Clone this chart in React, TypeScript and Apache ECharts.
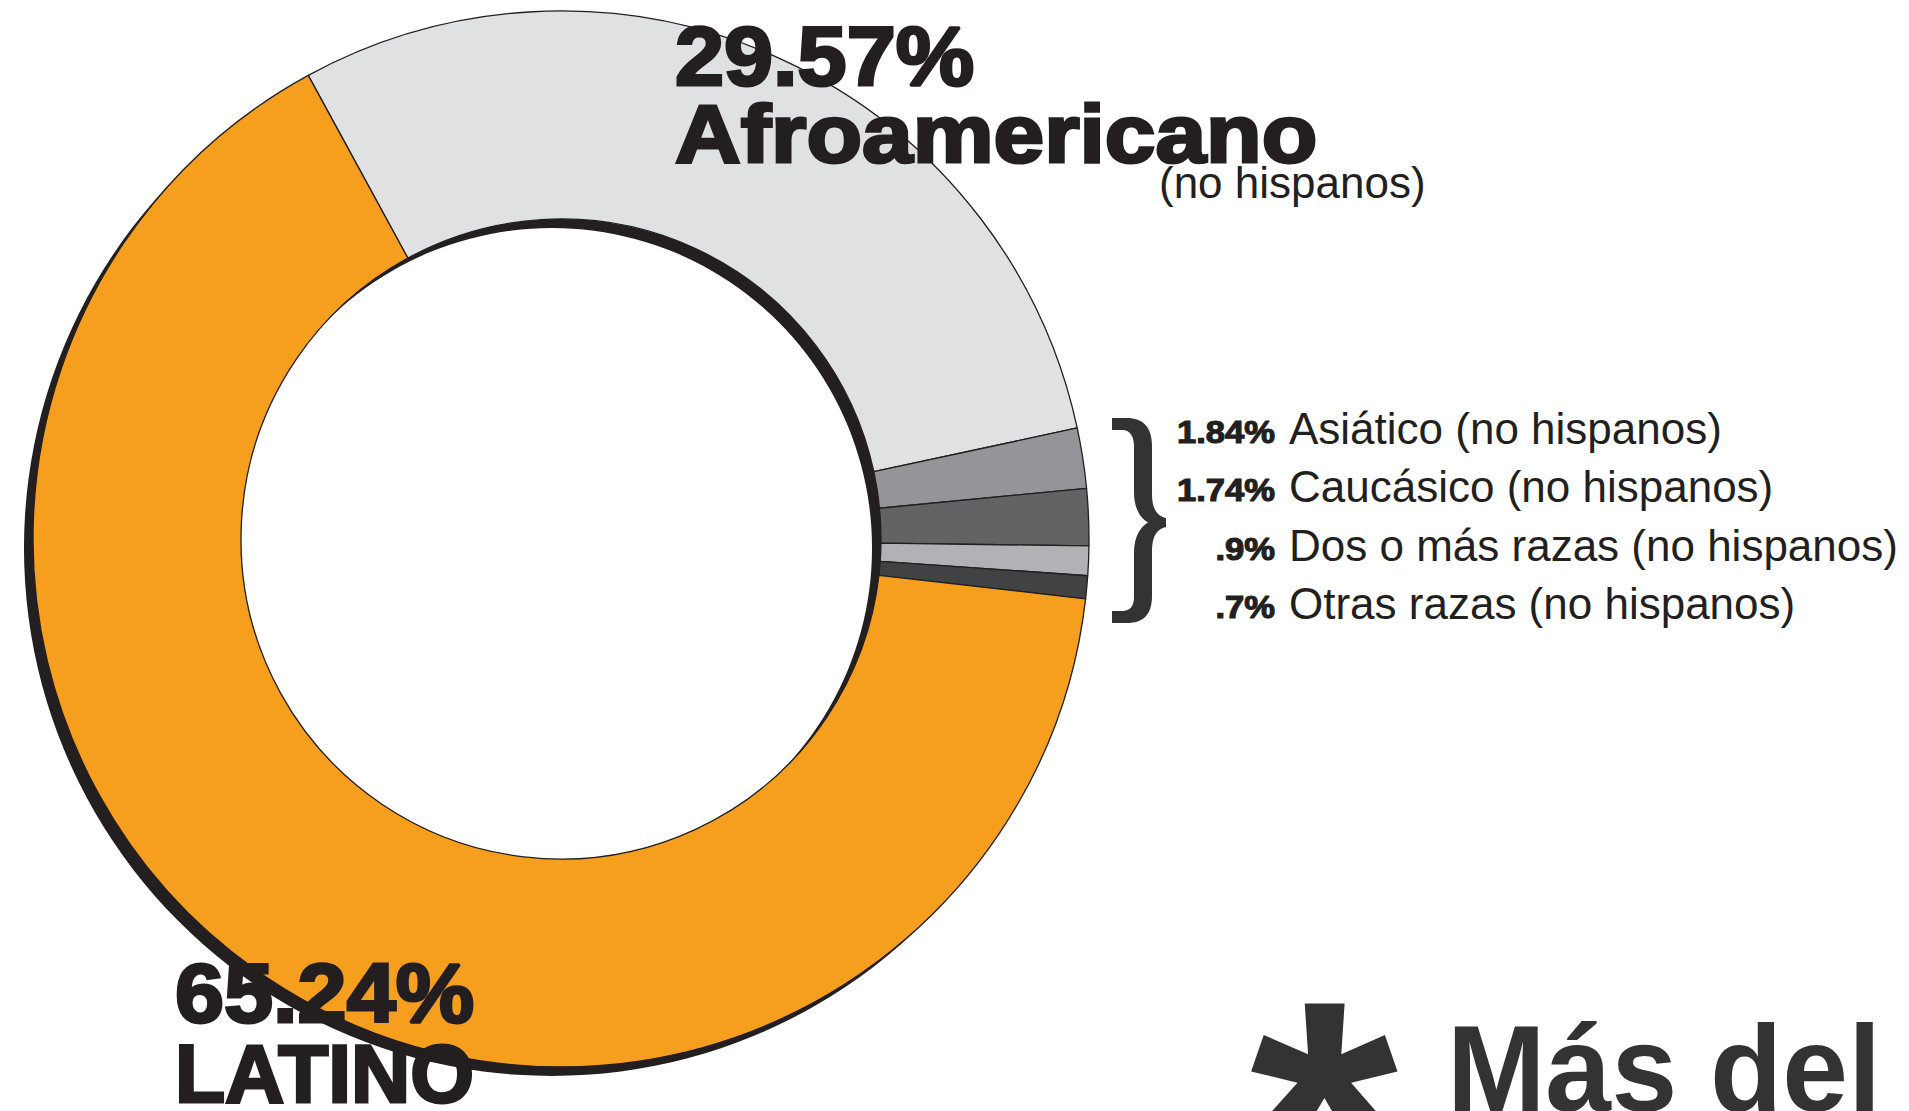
import React, { useEffect, useRef } from "react";
import * as echarts from "echarts";

const categories = ["Afroamericano", "Asiático", "Caucásico", "Dos o más razas", "Otras razas", "Latino"];
const values = [29.57, 1.84, 1.74, 0.9, 0.7, 65.24];
const sliceColors = ["#e0e1e2", "#949598", "#626365", "#b0b2b5", "#414244", "#f69e1e"];

const legendPct = ["1.84%", "1.74%", ".9%", ".7%"];
const legendNames = [
  "Asiático (no hispanos)",
  "Caucásico (no hispanos)",
  "Dos o más razas (no hispanos)",
  "Otras razas (no hispanos)",
];
const legendBaselines = [443, 501, 560, 618];

const FONT = '"Liberation Sans", Arial, Helvetica, sans-serif';
const INK = "#231f20";

const braceD =
  "M1112 418 L1127 418 C1143 418 1152 427 1152 446 L1152 494 C1152 509 1157 516 1166 518 L1166 527 " +
  "C1157 529 1152 536 1152 551 L1152 596 C1152 615 1143 623 1127 623 L1112 623 L1112 611 L1122 611 " +
  "C1130 611 1134 606 1134 597 L1134 553 C1134 537 1140 527 1148 522.5 C1140 518 1134 508 1134 492 " +
  "L1134 447 C1134 436 1130 430 1122 430 L1112 430 Z";

let registered = false;
function ensureShapes() {
  if (registered) return;
  registered = true;
  echarts.graphic.registerShape("brace", echarts.graphic.extendPath(braceD, {}));
}

function txt(
  text: string,
  x: number,
  baseline: number,
  fs: number,
  o: { weight?: string; align?: string; scaleX?: number; fill?: string; stroke?: number } = {}
) {
  const fill = o.fill || INK;
  const style: any = {
    text,
    x: 0,
    y: 0,
    fontSize: fs,
    fontWeight: o.weight || "normal",
    fontFamily: FONT,
    fill,
    align: o.align || "left",
    verticalAlign: "middle",
    textAlign: o.align || "left",
    textVerticalAlign: "middle",
  };
  if (o.stroke) {
    style.stroke = fill;
    style.lineWidth = o.stroke;
  }
  return {
    type: "text",
    x,
    y: baseline - 0.3465 * fs,
    scaleX: o.scaleX || 1,
    z: 100,
    silent: true,
    style,
  };
}

export default function App() {
  const ref = useRef<HTMLDivElement>(null);
  useEffect(() => {
    if (!ref.current) return;
    ensureShapes();
    const chart = echarts.init(ref.current, null, { renderer: "svg" });
    const center = [561, 539];
    const radius = [320, 528];
    const graphics: any[] = [
      txt("29.57%", 675, 85, 84, { weight: "bold", scaleX: 1.05, stroke: 3 }),
      txt("Afroamericano", 675, 162, 82, { weight: "bold", scaleX: 1.11, stroke: 3 }),
      txt("(no hispanos)", 1159, 198, 44),
      txt("65.24%", 175, 1022, 84, { weight: "bold", scaleX: 1.05, stroke: 3 }),
      txt("LATINO", 175, 1102, 82, { weight: "bold", scaleX: 1.0, stroke: 3 }),
      txt("*", 1250, 1265, 380, { weight: "bold", fill: "#333333" }),
      txt("Más del", 1447, 1111, 122, { weight: "bold", scaleX: 0.97, fill: "#333333" }),
      { type: "brace", x: 0, y: 0, z: 100, silent: true, style: { fill: "#333333" } },
    ];
    legendPct.forEach((p, i) => {
      graphics.push(txt(p, 1275, legendBaselines[i], 32, { weight: "bold", align: "right", scaleX: 1.08, stroke: 1.2 }));
      graphics.push(txt(legendNames[i], 1289, legendBaselines[i] + 1, 44));
    });
    chart.setOption({
      animation: false,
      backgroundColor: "#ffffff",
      graphic: { elements: graphics },
      series: [
        {
          type: "pie",
          silent: true,
          center: [center[0] - 9, center[1] + 9],
          radius,
          z: 1,
          label: { show: false },
          labelLine: { show: false },
          itemStyle: { color: INK, borderWidth: 0 },
          emphasis: { disabled: true },
          data: [{ value: 1, name: "shadow" }],
        },
        {
          type: "pie",
          silent: true,
          center,
          radius,
          z: 2,
          startAngle: 118.6,
          clockwise: true,
          label: { show: false },
          labelLine: { show: false },
          emphasis: { disabled: true },
          itemStyle: { borderColor: INK, borderWidth: 1.3 },
          data: categories.map((c, i) => ({
            name: c,
            value: values[i],
            itemStyle: { color: sliceColors[i] },
          })),
        },
      ],
    });
    return () => chart.dispose();
  }, []);
  return (
    <div
      ref={ref}
      style={{ position: "fixed", left: 0, top: 0, width: 1909, height: 1111, background: "#fff" }}
    />
  );
}
